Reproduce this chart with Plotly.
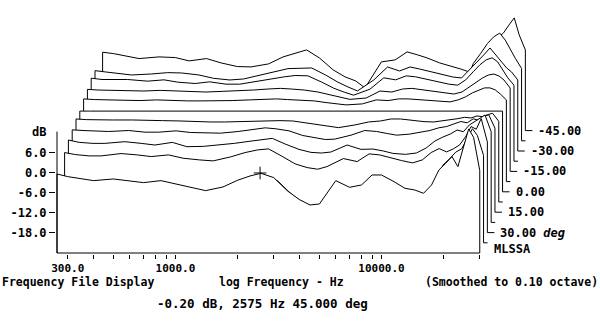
import math
import plotly.graph_objects as go

# ---------------- data ----------------
FREQ = [266, 300, 350, 400, 500, 600, 700, 850, 1000, 1200, 1400, 1700, 2000,
        2300, 2600, 3000, 3500, 4000, 4500, 5000, 6000, 7000, 8000, 9000, 10000,
        11500, 13000, 14500, 16000, 17500, 19000, 20500, 22000, 23500, 25000,
        26500, 28000, 30000]

ANGLES = [45.0, 37.5, 30.0, 22.5, 15.0, 7.5, 0.0, -7.5, -15.0, -22.5, -30.0, -37.5, -45.0]

DB_P45_0 = [-0.5, -1.3, -1.9, -2.5, -2.0, -2.6, -3.1, -2.5, -3.5, -4.7,
            -5.5, -4.4, -2.4, -1.1, -0.3, -1.6, -5.6, -8.2, -9.8, -9.5,
            -2.5, -4.5, -3.8, -0.8, -0.8, -2.8, -4.8, -5.3, -6.3, -3.8,
            0.7, 2.7, 4.7, 1.7, 7.2, 13.0, 10.5, 0.5]
DB_P37_5 = [-4.5, -5.3, -5.9, -6.5, -6.0, -6.6, -7.1, -6.5, -7.5, -8.7,
            -9.5, -8.4, -6.4, -5.1, -4.3, -5.6, -9.6, -12.2, -13.8, -13.5,
            -6.5, -8.5, -7.8, -4.8, -4.8, -6.8, -8.8, -9.3, -10.3, -7.8,
            -1.0, 1.0, 3.0, 4.0, 7.0, 10.0, 8.0, 2.0]
DB_P30_0 = [-0.2, -0.8, -1.2, -1.2, -0.5, -0.9, -1.4, -0.9, -1.9, -2.4,
            -2.7, -1.5, -0.2, 0.6, 0.9, -1.2, -3.6, -4.7, -5.2, -4.4,
            -2.0, -2.9, -0.6, -0.9, -1.7, -2.6, -3.3, -2.4, -0.2, 1.0,
            0.0, 0.9, 2.1, 4.5, 7.6, 6.8, 10.0, 3.0]
DB_P22_5 = [0.5, -0.2, -0.5, -0.5, 0.0, -0.5, -1.0, -0.2, -1.5, -1.4,
            -1.1, -0.5, 0.1, 0.7, 1.0, -0.7, -2.3, -3.2, -3.4, -3.1,
            -1.0, -2.3, -2.2, -2.8, -3.5, -3.8, -3.4, -1.9, 0.2, 1.4,
            2.3, 3.5, 3.0, 5.0, 6.0, 7.0, 8.0, 3.0]
DB_P15_0 = [0.5, 0.3, 0.2, 0.0, 0.3, -0.2, -0.2, 0.2, -0.3, -0.5,
            -0.5, 0.0, 0.6, 1.1, 0.8, 0.2, -1.2, -1.8, -2.4, -2.3,
            -1.1, 0.3, 0.0, -0.6, -1.1, -0.8, -0.3, 0.3, 1.1, 1.5,
            2.3, 3.0, 2.6, 3.8, 3.4, 4.6, 5.0, 1.0]
DB_P7_5 = [0.7, 0.5, 0.4, 0.4, 0.4, 0.4, 0.2, 0.1, -0.1, -0.2,
           -0.2, -0.1, 0.1, 0.2, 0.2, 0.1, -0.5, -1.1, -1.7, -1.9,
           -1.1, -0.2, 0.1, 0.7, 0.7, 0.2, -0.1, -0.2, 0.1, 0.5,
           0.8, 1.2, 1.0, 1.6, 1.4, 2.0, 2.4, 0.0]
DB_0_0 = [0.0, 0.0, 0.0, 0.0, 0.0, 0.0, 0.0, 0.0, 0.0, 0.0,
          0.0, 0.0, 0.0, 0.0, 0.0, 0.0, 0.0, 0.0, 0.0, 0.0,
          0.0, 0.0, 0.0, 0.0, 0.0, 0.0, 0.0, 0.0, 0.0, 0.0,
          0.0, 0.0, 0.0, 0.0, 0.0, 0.0, 0.0, 0.0]
DB_N7_5 = [0.6, 0.4, 0.3, 0.3, 0.1, 0.3, 0.1, 0.0, 0.0, 0.0,
           0.1, 0.3, 0.4, 0.6, 0.4, 0.3, 0.0, -0.5, -0.9, -1.2,
           -0.9, 0.3, 0.1, 0.6, 0.6, 0.3, 0.0, -0.3, -0.3, 0.3,
           1.2, 2.4, 3.3, 3.9, 3.9, 3.3, 2.1, 0.3]
DB_N15_0 = [0.4, 0.2, 0.1, 0.2, -0.1, 0.1, -0.1, -0.2, -0.4, -0.2,
            -0.1, 0.2, 0.5, 0.7, 0.5, 0.2, -0.4, -1.3, -2.0, -2.6,
            -2.2, -0.1, -0.4, 0.5, 0.7, 0.2, -0.2, -0.7, -1.0, -0.4,
            1.1, 2.6, 3.8, 4.7, 5.0, 4.4, 3.2, 0.8]
DB_N22_5 = [0.7, 0.3, 0.2, 0.3, -0.2, 0.2, -0.5, -0.9, -0.4, -1.1,
            -1.1, -0.2, 0.5, 1.1, 1.5, 1.4, -0.5, -2.3, -3.5, -4.4,
            -2.6, 0.8, 0.2, 1.4, 1.1, 0.2, -0.5, -1.1, -1.4, 0.2,
            2.6, 4.7, 6.2, 6.8, 5.6, 3.2, 0.8, -1.4]
DB_N30_0 = [-0.1, -0.5, -1.1, -1.4, -1.1, -0.7, -0.8, -1.4, -2.4, -2.9,
            -2.6, -1.4, -0.4, 0.5, 0.6, 0.7, -1.4, -3.5, -5.0, -6.2,
            -2.9, 1.0, -0.2, 1.0, 0.4, -0.5, -1.4, -2.0, -2.3, 0.1,
            2.5, 4.6, 6.7, 4.6, 2.5, 0.7, -0.5, -2.9]
DB_N37_5 = [-4.6, -5.0, -5.6, -5.9, -5.6, -5.2, -5.3, -5.9, -6.9, -7.4,
            -7.1, -5.9, -4.9, -4.0, -3.9, -3.8, -5.9, -8.0, -9.5, -10.7,
            -7.4, -3.5, -4.7, -3.5, -4.1, -5.0, -5.9, -6.5, -6.8, -1.0,
            2.0, 5.0, 7.0, 8.1, 6.0, 3.0, 0.5, -2.5]
DB_N45_0 = [-0.7, -1.1, -2.0, -2.6, -2.1, -2.3, -3.3, -2.6, -3.9, -5.0,
            -5.1, -4.2, -2.1, -1.1, 0.0, -2.4, -6.0, -8.1, -9.3, -11.4,
            -3.6, -3.0, -0.6, -1.5, -2.4, -3.9, -4.8, -5.7, -6.6, -5.4,
            -1.5, 1.5, 3.6, 5.1, 7.5, 9.6, 4.5, 0.0]

RESPONSES = [DB_P45_0, DB_P37_5, DB_P30_0, DB_P22_5, DB_P15_0, DB_P7_5, DB_0_0,
             DB_N7_5, DB_N15_0, DB_N22_5, DB_N30_0, DB_N37_5, DB_N45_0]

Z_LABELS = ["", "", "30.00 <i>deg</i>", "", "15.00", "", "0.00", "",
            "-15.00", "", "-30.00", "", "-45.00"]

X_TICKS = [300, 400, 500, 600, 700, 800, 900, 1000, 2000, 3000, 4000, 5000,
           6000, 7000, 8000, 9000, 10000, 20000, 30000]
X_TICK_TEXT = ["300.0", "", "", "", "", "", "", "1000.0", "", "", "", "",
               "", "", "", "", "10000.0", "", ""]
Y_TICKS = [6, 0, -6, -12, -18]
Y_TICK_TEXT = ["6.0", "0.0", "-6.0", "-12.0", "-18.0"]
Y_AXIS_TOP_DB = 12.2

CURSOR_F = 2575
CURSOR_DB = -0.20

# ---------------- geometry (pixels) ----------------
W, H = 600, 328
ML, MB = 56, 74
PX_DEC = 206.0
PX_DB = 20.0 / 6.0
ZERO_PX = 172.3
DX_PX = 3.8
DY_PX = 10.2
FRONT_X_PX = 57
AXIS_Y_PX = 253

plot_h = H - MB
x_lo = math.log10(FREQ[0]) - (FRONT_X_PX - ML) / PX_DEC
x_hi = math.log10(FREQ[0]) + (W - FRONT_X_PX) / PX_DEC
y_lo = -(plot_h - ZERO_PX) / PX_DB
y_hi = ZERO_PX / PX_DB
front_base = -(AXIS_Y_PX - ZERO_PX) / PX_DB
dz_dec = DX_PX / PX_DEC
dz_db = DY_PX / PX_DB

FONT = "DejaVu Sans Mono"

fig = go.Figure()

n = len(RESPONSES)
for k in range(n - 1, -1, -1):
    fac = 10 ** (k * dz_dec)
    xs = [f * fac for f in FREQ]
    ys = [v + k * dz_db for v in RESPONSES[k]]
    base = front_base + k * dz_db
    xl, xr = xs[0], xs[-1]
    # hidden-line fill
    fig.add_trace(go.Scatter(
        x=[xl] + xs + [xr], y=[base] + ys + [base],
        mode="lines", fill="toself", fillcolor="white",
        line=dict(width=0, color="white"), hoverinfo="skip"))
    # outline
    if k == 0:
        ox = [xl] + xs + [xr]
        oy = [base] + ys + [base]
    else:
        tick_px = 7 if Z_LABELS[k] else 4
        ox = [xl] + xs + [xr, xr * 10 ** (tick_px / PX_DEC)]
        oy = [base] + ys + [base, base]
    fig.add_trace(go.Scatter(
        x=ox, y=oy, mode="lines",
        line=dict(color="black", width=1), hoverinfo="skip"))
    if Z_LABELS[k]:
        fig.add_annotation(
            x=math.log10(xr), y=base, xref="x", yref="y",
            text="<b>" + Z_LABELS[k] + "</b>", showarrow=False,
            xanchor="left", yanchor="middle", xshift=11,
            font=dict(family=FONT, size=12, color="black"))
    if k == 1:
        fig.add_annotation(
            x=math.log10(xr), y=base, xref="x", yref="y",
            text="<b>MLSSA</b>", showarrow=False,
            xanchor="left", yanchor="middle", xshift=8, yshift=-6,
            font=dict(family=FONT, size=12, color="black"))

# axis lines
fig.add_trace(go.Scatter(x=[FREQ[0], FREQ[-1]], y=[front_base, front_base],
                         mode="lines", line=dict(color="black", width=1),
                         hoverinfo="skip"))
fig.add_trace(go.Scatter(x=[FREQ[0], FREQ[0]], y=[front_base, Y_AXIS_TOP_DB],
                         mode="lines", line=dict(color="black", width=1),
                         hoverinfo="skip"))
# cursor
fig.add_trace(go.Scatter(x=[CURSOR_F], y=[CURSOR_DB], mode="markers",
                         marker=dict(symbol="cross-thin", size=9,
                                     line=dict(color="black", width=1)),
                         hoverinfo="skip"))


def px_x(px):
    return (px - ML) / (W - ML)


def px_y(py):
    return (plot_h - py) / plot_h


texts = [
    ("<b>dB</b>", 48, 132, "right", 12),
    ("<b>Frequency File Display</b>", 0, 282, "left", 11.5),
    ("<b>log Frequency - Hz</b>", 217, 282, "left", 11.5),
    ("<b>(Smoothed to 0.10 octave)</b>", 600, 282, "right", 11.5),
    ("<b>-0.20 dB, 2575 Hz 45.000 deg</b>", 155, 303, "left", 12.5),
]
for t, xp, yp, anc, sz in texts:
    fig.add_annotation(x=px_x(xp), y=px_y(yp), xref="paper", yref="paper",
                       text=t, showarrow=False, xanchor=anc, yanchor="middle",
                       font=dict(family=FONT, size=sz, color="black"))

fig.update_layout(
    width=W, height=H,
    margin=dict(l=ML, r=0, t=0, b=MB, pad=0),
    paper_bgcolor="white", plot_bgcolor="white",
    showlegend=False,
    xaxis=dict(type="log", range=[x_lo, x_hi], showgrid=False, zeroline=False,
               showline=False, tickmode="array", tickvals=X_TICKS,
               ticktext=["<b>" + t + "</b>" if t else "" for t in X_TICK_TEXT],
               ticks="outside", ticklen=4, tickcolor="black", tickwidth=1,
               tickfont=dict(family=FONT, size=11, color="black"),
               automargin=False, fixedrange=True),
    yaxis=dict(range=[y_lo, y_hi], showgrid=False, zeroline=False,
               showline=False, tickmode="array", tickvals=Y_TICKS,
               ticktext=["<b>" + t + "</b>" for t in Y_TICK_TEXT],
               ticks="outside", ticklen=6, tickcolor="black", tickwidth=1,
               tickfont=dict(family=FONT, size=12, color="black"),
               automargin=False, fixedrange=True),
)

fig.write_html("out.html")
